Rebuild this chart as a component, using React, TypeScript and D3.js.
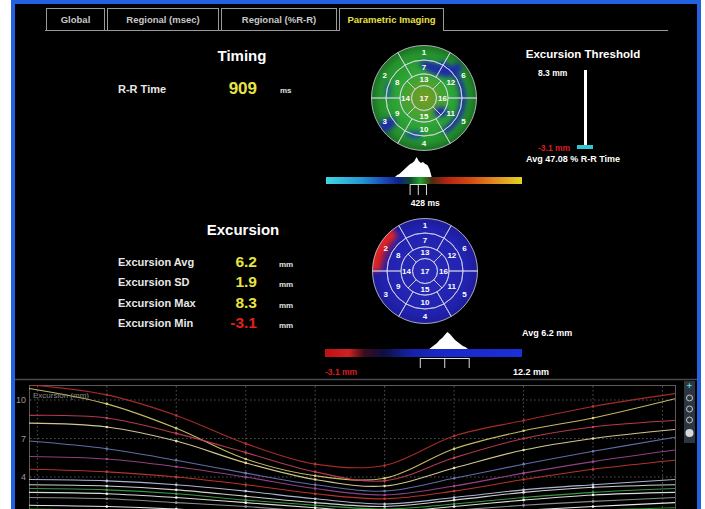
import React from 'react';
import * as d3 from 'd3';

// ---------- DATA ----------
const tabs = ['Global', 'Regional (msec)', 'Regional (%R-R)', 'Parametric Imaging'];
const activeTab = 3;
const rrTime = 909;
const excursionLabels = ['Excursion Avg', 'Excursion SD', 'Excursion Max', 'Excursion Min'];
const excursionValues = [6.2, 1.9, 8.3, -3.1];
const thresholdMax = 8.3;
const thresholdMin = -3.1;
const avgPctRR = 47.08;
const timingAvg = 428;
const timingMarks = [390, 428, 466];
const timingRange = [0, 909];
const timingHistBins = [320, 330, 340, 350, 360, 370, 380, 390, 400, 410, 420, 430, 440, 450, 460, 470, 480, 490];
const timingHistCounts = [0, 2, 3, 5, 7, 9, 11, 13, 14, 16, 20, 16, 14, 15, 13, 12, 8, 0];
const excRange = [-3.1, 12.2];
const excAvg = 6.2;
const excMarks = [4.3, 6.2, 8.1];
const excHistBins = [5.0, 5.2, 5.4, 5.6, 5.8, 6.0, 6.2, 6.4, 6.6, 6.8, 7.0, 7.2, 7.4, 7.6, 7.8, 8.0];
const excHistCounts = [0, 2, 4, 6, 9, 11, 14, 17, 15, 12, 9, 7, 5, 3, 2, 0];

const basalSegs = [1, 2, 3, 4, 5, 6];
const midSegs = [7, 8, 9, 10, 11, 12];
const apicalSegs = [13, 14, 15, 16];

const curveTimes = [-12, 100, 200, 300, 400, 500, 600, 700, 800, 918];
const gridTimes = [0, 100, 200, 300, 400, 500, 600, 700, 800, 900];
const yTicks = [4, 7, 10];
const seriesValues: number[][] = [
  [11.2, 10.4, 8.8, 6.6, 5.0, 4.9, 7.2, 8.4, 9.5, 10.5],
  [10.9, 9.7, 7.8, 5.4, 4.1, 3.9, 6.2, 7.6, 8.6, 10.1],
  [8.8, 8.6, 7.4, 5.9, 4.4, 3.7, 5.5, 7.0, 7.9, 8.4],
  [8.2, 7.9, 6.8, 5.1, 3.8, 3.3, 4.7, 6.1, 7.0, 7.7],
  [6.8, 6.2, 5.3, 4.3, 3.4, 2.9, 3.9, 5.0, 6.0, 7.1],
  [5.6, 5.4, 4.8, 4.0, 3.1, 2.6, 3.3, 4.3, 5.2, 6.1],
  [4.6, 4.4, 4.0, 3.4, 2.7, 2.3, 2.9, 3.8, 4.6, 5.3],
  [3.8, 3.7, 3.4, 2.9, 2.3, 1.9, 2.4, 3.0, 3.4, 3.8],
  [3.4, 3.3, 3.0, 2.5, 2.0, 1.7, 2.2, 2.8, 3.2, 3.4],
  [3.1, 3.0, 2.7, 2.2, 1.8, 1.5, 1.9, 2.4, 2.8, 3.1],
  [2.8, 2.7, 2.4, 2.0, 1.6, 1.3, 1.7, 2.2, 2.6, 2.8],
  [2.4, 2.3, 2.0, 1.7, 1.3, 1.0, 1.4, 1.8, 2.1, 2.4],
  [1.8, 1.7, 1.5, 1.2, 0.9, 0.7, 1.0, 1.4, 1.7, 2.0],
  [1.5, 1.4, 1.2, 0.9, 0.6, 0.5, 0.8, 1.1, 1.4, 1.6],
];
const seriesColors = ['#b83030', '#d8cf6a', '#c84058', '#e6dca0', '#6a78b8', '#a04890', '#c83a30',
  '#c0c8e8', '#e8e8e8', '#40a848', '#f4f4f4', '#9a9a9a', '#ffffff', '#38a038'];

// ---------- HELPERS ----------
const FONT = '"Liberation Sans", Arial, sans-serif';
const toRad = (deg: number) => (deg * Math.PI) / 180;

function Bullseye({ cx, cy, id, kind }: { cx: number; cy: number; id: string; kind: 'timing' | 'exc' }) {
  const R = 52.5, r2 = 38, r3 = 24, r4 = 12.5;
  const arc = d3.arc<any>();
  const segPaths: string[] = [];
  basalSegs.forEach((s, i) => {
    const c = -i * 60;
    segPaths.push(arc({ innerRadius: r2, outerRadius: R, startAngle: toRad(c - 30), endAngle: toRad(c + 30) }) as string);
  });
  midSegs.forEach((s, i) => {
    const c = -i * 60;
    segPaths.push(arc({ innerRadius: r3, outerRadius: r2, startAngle: toRad(c - 30), endAngle: toRad(c + 30) }) as string);
  });
  apicalSegs.forEach((s, i) => {
    const c = -i * 90;
    segPaths.push(arc({ innerRadius: r4, outerRadius: r3, startAngle: toRad(c - 45), endAngle: toRad(c + 45) }) as string);
  });
  const labels: { t: number; x: number; y: number }[] = [];
  const pos = (rr: number, a: number) => ({ x: rr * Math.sin(toRad(a)), y: -rr * Math.cos(toRad(a)) });
  basalSegs.forEach((s, i) => { const p = pos(45.5, -i * 60); labels.push({ t: s, ...p }); });
  midSegs.forEach((s, i) => { const p = pos(31, -i * 60); labels.push({ t: s, ...p }); });
  apicalSegs.forEach((s, i) => { const p = pos(18.5, -i * 90); labels.push({ t: s, ...p }); });
  labels.push({ t: 17, x: 0, y: 0 });

  const ringArc = (ri: number, ro: number, a0: number, a1: number) =>
    arc({ innerRadius: ri, outerRadius: ro, startAngle: toRad(a0), endAngle: toRad(a1) }) as string;

  return (
    <g transform={`translate(${cx},${cy})`}>
      <defs>
        <clipPath id={`clip-${id}`}><circle r={R} /></clipPath>
        <filter id={`blur-${id}`} x="-50%" y="-50%" width="200%" height="200%"><feGaussianBlur stdDeviation="2.6" /></filter>
        <radialGradient id={`rg-${id}`}>
          {kind === 'timing' ? (
            <>
              <stop offset="0" stopColor="#7a9a22" />
              <stop offset="0.22" stopColor="#5aa02a" />
              <stop offset="0.5" stopColor="#2fa636" />
              <stop offset="0.85" stopColor="#24922c" />
              <stop offset="1" stopColor="#1c6e22" />
            </>
          ) : (
            <>
              <stop offset="0" stopColor="#2a2ab8" />
              <stop offset="0.8" stopColor="#2222b0" />
              <stop offset="1" stopColor="#1c1c9a" />
            </>
          )}
        </radialGradient>
      </defs>
      <circle r={R} fill={`url(#rg-${id})`} />
      <g clipPath={`url(#clip-${id})`}>
        <g filter={`url(#blur-${id})`}>
          {kind === 'timing' ? (
            <>
              <ellipse cx={12} cy={-29} rx={17} ry={5.5} fill="#1a2ca8" transform="rotate(22 12 -29)" />
              <path d={ringArc(36, 42, 25, 150)} fill="#1a2ca8" />
              <ellipse cx={17} cy={14} rx={7} ry={5} fill="#1a2ca8" />
              <ellipse cx={-37} cy={27} rx={10} ry={6} fill="#1a2ca8" transform="rotate(-35 -37 27)" />
              <ellipse cx={-10} cy={37} rx={8} ry={4} fill="#1a50a0" />
              <ellipse cx={-36} cy={-8} rx={3.5} ry={9} fill="#1a50a0" opacity={0.7} />
              <ellipse cx={33} cy={-30} rx={5} ry={5} fill="#1a2ca8" />
            </>
          ) : (
            <>
              <path d={ringArc(44, 58, -90, -38)} fill="#e02020" />
              <path d={ringArc(40, 46, -82, -48)} fill="#901840" opacity={0.5} />
            </>
          )}
        </g>
      </g>
      {segPaths.map((p, i) => (
        <path key={i} d={p} fill="none" stroke="#d8d8e8" strokeWidth={0.9} strokeOpacity={0.85} />
      ))}
      <circle r={r4} fill="none" stroke="#d8d8e8" strokeWidth={0.9} strokeOpacity={0.85} />
      {labels.map((l) => (
        <text key={l.t} x={l.x} y={l.y} dy="0.35em" textAnchor="middle" fill="#ffffff"
          fontFamily={FONT} fontWeight="bold" fontSize={8}>{l.t}</text>
      ))}
    </g>
  );
}

export default function App() {
  const W = 705, H = 509;

  const tX = d3.scaleLinear().domain(timingRange).range([326, 522]);
  const tHistY = d3.scaleLinear().domain([0, 20]).range([177, 157]);
  const tArea = d3.area<number>().x((d, i) => tX(timingHistBins[i])).y0(177).y1((d) => tHistY(d)).curve(d3.curveLinear);
  const eX = d3.scaleLinear().domain(excRange).range([325, 522]);
  const eHistY = d3.scaleLinear().domain([0, 17]).range([349, 332]);
  const eArea = d3.area<number>().x((d, i) => eX(excHistBins[i])).y0(349).y1((d) => eHistY(d)).curve(d3.curveLinear);

  const thY = d3.scaleLinear().domain([thresholdMin, thresholdMax]).range([147, 70]);

  const x = d3.scaleLinear().domain([-12, 918]).range([29, 675]);
  const y = d3.scaleLinear().domain([4, 10]).range([477, 400]);
  const line = d3.line<number>().x((d, i) => x(curveTimes[i])).y((d) => y(d)).curve(d3.curveCatmullRom.alpha(0.5));

  const tabX = [46, 107, 221, 339];
  const tabW = [58, 111, 115, 104];

  return (
    <svg width={W} height={H} style={{ position: 'absolute', left: 0, top: 0, display: 'block' }}>
      <defs>
        <linearGradient id="gTiming" x1="0" x2="1" y1="0" y2="0">
          <stop offset="0" stopColor="#40d8e2" />
          <stop offset="0.18" stopColor="#2598d4" />
          <stop offset="0.3" stopColor="#1a48b4" />
          <stop offset="0.37" stopColor="#10208a" />
          <stop offset="0.43" stopColor="#0e4a2a" />
          <stop offset="0.48" stopColor="#22a432" />
          <stop offset="0.54" stopColor="#4a2a10" />
          <stop offset="0.62" stopColor="#b82412" />
          <stop offset="0.74" stopColor="#d44a12" />
          <stop offset="0.86" stopColor="#e08a20" />
          <stop offset="1" stopColor="#e2d422" />
        </linearGradient>
        <linearGradient id="gExc" x1="0" x2="1" y1="0" y2="0">
          <stop offset="0" stopColor="#c01010" />
          <stop offset="0.12" stopColor="#d02020" />
          <stop offset="0.2" stopColor="#3a0c1c" />
          <stop offset="0.3" stopColor="#0e0e40" />
          <stop offset="0.42" stopColor="#1420a0" />
          <stop offset="0.6" stopColor="#1a28c8" />
          <stop offset="1" stopColor="#1a30d8" />
        </linearGradient>
        <clipPath id="plotClip"><rect x={29} y={385} width={646} height={130} /></clipPath>
      </defs>

      <rect x={0} y={0} width={W} height={H} fill="#ffffff" />
      <rect x={11} y={0} width={690} height={H} fill="#2262e0" />
      <rect x={15} y={4} width={682} height={H - 4} fill="#000000" />

      <line x1={45} x2={668} y1={30.5} y2={30.5} stroke="#9a9a9a" strokeWidth={1} />
      {tabs.map((t, i) => (
        <g key={t}>
          <rect x={tabX[i] + 0.5} y={8.5} width={tabW[i]} height={22} fill="#000"
            stroke="#9a9a9a" strokeWidth={1} />
          {i === activeTab && <line x1={tabX[i] + 1} x2={tabX[i] + tabW[i]} y1={30.5} y2={30.5} stroke="#000" strokeWidth={1.5} />}
          <text x={tabX[i] + tabW[i] / 2 + 0.5} y={23} textAnchor="middle" fontFamily={FONT}
            fontSize={9.5} fontWeight="bold"
            fill={i === activeTab ? '#e8e040' : '#c8c8c8'}>{t}</text>
        </g>
      ))}

      <text x={242} y={61} textAnchor="middle" fill="#ffffff" fontFamily={FONT} fontWeight="bold" fontSize={15}>Timing</text>
      <text x={118} y={93} fill="#e8e8e8" fontFamily={FONT} fontWeight="bold" fontSize={11}>R-R Time</text>
      <text x={257} y={94} textAnchor="end" fill="#e8e440" fontFamily={FONT} fontWeight="bold" fontSize={17}>{rrTime}</text>
      <text x={280} y={93} fill="#e0e0e0" fontFamily={FONT} fontWeight="bold" fontSize={8}>ms</text>

      <Bullseye cx={424} cy={98} id="top" kind="timing" />

      <text x={583} y={58} textAnchor="middle" fill="#ffffff" fontFamily={FONT} fontWeight="bold" fontSize={11.5}>Excursion Threshold</text>
      <rect x={584} y={thY(thresholdMax)} width={3} height={thY(thresholdMin) - thY(thresholdMax)} fill="#ffffff" />
      <rect x={577} y={thY(thresholdMin) - 2} width={16} height={4} fill="#30c8d0" />
      <text x={538} y={76} fill="#ffffff" fontFamily={FONT} fontWeight="bold" fontSize={8.5}>{`${thresholdMax} mm`}</text>
      <text x={538} y={151} fill="#d81e1e" fontFamily={FONT} fontWeight="bold" fontSize={8.5}>{`${thresholdMin} mm`}</text>
      <text x={526} y={161.5} fill="#ffffff" fontFamily={FONT} fontWeight="bold" fontSize={9}>{`Avg ${avgPctRR} % R-R Time`}</text>

      <path d={tArea(timingHistCounts) as string} fill="#ffffff" />
      <rect x={326} y={177} width={196} height={7} fill="url(#gTiming)" />
      <line x1={tX(timingMarks[0])} x2={tX(timingMarks[2])} y1={184.5} y2={184.5} stroke="#dddddd" strokeWidth={1} />
      {timingMarks.map((m) => (
        <line key={m} x1={tX(m)} x2={tX(m)} y1={184} y2={195} stroke="#dddddd" strokeWidth={1} />
      ))}
      <text x={tX(timingAvg) + 7} y={206} textAnchor="middle" fill="#ffffff" fontFamily={FONT} fontWeight="bold" fontSize={8.5}>{`${timingAvg} ms`}</text>

      <text x={243} y={235} textAnchor="middle" fill="#ffffff" fontFamily={FONT} fontWeight="bold" fontSize={15}>Excursion</text>
      {excursionLabels.map((l, i) => (
        <g key={l}>
          <text x={118} y={266 + i * 20.3} fill="#e8e8e8" fontFamily={FONT} fontWeight="bold" fontSize={11}>{l}</text>
          <text x={257} y={267 + i * 20.3} textAnchor="end" fill={excursionValues[i] < 0 ? '#e02020' : '#e8e440'}
            fontFamily={FONT} fontWeight="bold" fontSize={15.5}>{excursionValues[i].toFixed(1)}</text>
          <text x={279} y={267 + i * 20.3} fill="#e0e0e0" fontFamily={FONT} fontWeight="bold" fontSize={8}>mm</text>
        </g>
      ))}

      <Bullseye cx={425} cy={271} id="bot" kind="exc" />

      <text x={522} y={336} fill="#ffffff" fontFamily={FONT} fontWeight="bold" fontSize={9}>{`Avg ${excAvg} mm`}</text>
      <path d={eArea(excHistCounts) as string} fill="#ffffff" />
      <rect x={325} y={349} width={197} height={8} fill="url(#gExc)" />
      <line x1={eX(excMarks[0])} x2={eX(excMarks[2])} y1={358.5} y2={358.5} stroke="#dddddd" strokeWidth={1} />
      {excMarks.map((m) => (
        <line key={m} x1={eX(m)} x2={eX(m)} y1={358} y2={368} stroke="#dddddd" strokeWidth={1} />
      ))}
      <text x={325} y={375} fill="#d81e1e" fontFamily={FONT} fontWeight="bold" fontSize={8.5}>{`${excRange[0]} mm`}</text>
      <text x={513} y={375} fill="#ffffff" fontFamily={FONT} fontWeight="bold" fontSize={9}>{`${excRange[1]} mm`}</text>

      <line x1={15} x2={697} y1={379.5} y2={379.5} stroke="#4a4a4a" strokeWidth={1.5} />

      <rect x={29.5} y={385.5} width={646} height={130} fill="#000" stroke="#5a5a5a" strokeWidth={1} />
      {gridTimes.map((t) => (
        <line key={t} x1={x(t)} x2={x(t)} y1={386} y2={509} stroke="#6a6a6a" strokeWidth={0.8} strokeDasharray="1.5,2.5" />
      ))}
      {yTicks.map((v) => (
        <g key={v}>
          <line x1={30} x2={675} y1={y(v)} y2={y(v)} stroke="#6a6a6a" strokeWidth={0.8} strokeDasharray="1.5,2.5" />
          <text x={26} y={y(v)} dy="0.35em" textAnchor="end" fill="#9a9a9a" fontFamily={FONT} fontSize={9}>{v}</text>
        </g>
      ))}
      <g clipPath="url(#plotClip)">
        {seriesValues.map((s, i) => (
          <g key={i}>
            <path d={line(s) as string} fill="none" stroke={seriesColors[i]} strokeWidth={1.1} strokeOpacity={0.9} />
            {s.slice(1, -1).map((v, j) => (
              <circle key={j} cx={x(curveTimes[j + 1])} cy={y(v)} r={1.3} fill={seriesColors[i]} />
            ))}
          </g>
        ))}
      </g>
      <text x={33} y={398} fill="#8a8a8a" fontFamily={FONT} fontSize={8}>Excursion (mm)</text>

      <rect x={684} y={381} width={11} height={62} fill="#2c3640" />
      <text x={689.5} y={389} textAnchor="middle" fill="#5ad0d8" fontFamily={FONT} fontSize={9} fontWeight="bold">+</text>
      {[398, 409, 420].map((cy) => (
        <circle key={cy} cx={689.5} cy={cy} r={3} fill="none" stroke="#c8c8c8" strokeWidth={1} />
      ))}
      <circle cx={689.5} cy={433} r={4} fill="#d8d8d8" />
    </svg>
  );
}
